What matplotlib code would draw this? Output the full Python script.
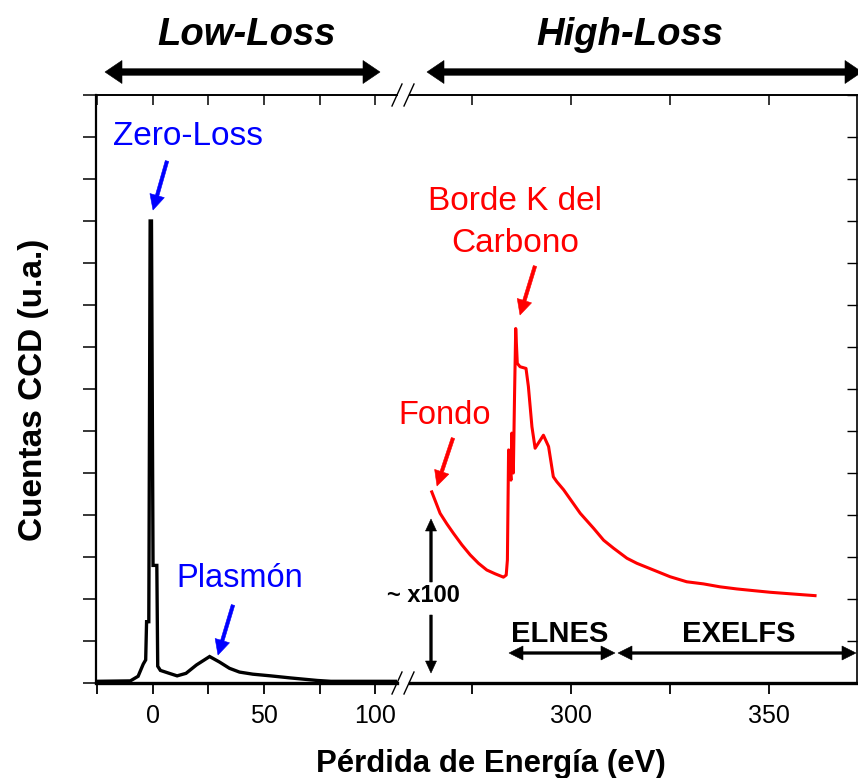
import matplotlib
matplotlib.use('Agg')
import matplotlib.pyplot as plt
from matplotlib.patches import Polygon
from matplotlib.lines import Line2D

# ---------------- data ----------------
low_energy = [-25.4, -10.0, -6.5, -4.2, -3.1, -2.7, -1.7, -1.1, -0.5, 0.2, 1.9, 2.3,
              3.5, 7.5, 11.0, 15.0, 19.7, 25.6, 30.0, 34.5, 39.0, 45.0, 53.0, 62.0,
              74.0, 80.0, 109.7]
low_counts = [0.04, 0.05, 0.16, 0.45, 0.55, 1.46, 1.46, 11.0, 11.0, 2.8, 2.8, 0.4,
              0.3, 0.23, 0.17, 0.23, 0.43, 0.63, 0.5, 0.35, 0.26, 0.21, 0.17, 0.12,
              0.06, 0.04, 0.04]

high_energy = [264.8, 266.9, 268.6, 270.3, 272.4, 274.5, 276.6, 278.7, 280.8, 282.9,
               283.6, 283.9, 284.2, 284.8, 285.0, 285.4, 285.7, 286.0, 286.4, 287.1,
               288.6, 289.2, 290.1, 290.9, 293.0, 294.3, 295.5, 296.4, 298.1, 302.3,
               305.7, 308.2, 310.7, 314.1, 316.6, 320.8, 325.0, 329.2, 333.4, 337.6,
               341.8, 346.0, 350.3, 354.5, 358.7, 361.6]
high_counts = [4.55, 4.04, 3.79, 3.56, 3.29, 3.05, 2.85, 2.69, 2.60, 2.52,
               2.57, 2.93, 5.55, 4.83, 5.95, 5.0, 6.82, 8.44, 7.61, 7.53,
               7.49, 7.06, 6.10, 5.59, 5.90, 5.63, 4.91, 4.79, 4.60, 4.04,
               3.68, 3.40, 3.21, 2.97, 2.85, 2.69, 2.53, 2.41, 2.36, 2.29,
               2.24, 2.20, 2.16, 2.13, 2.10, 2.08]

low_major = [0, 50, 100]
low_minor = [-25, 25, 75]
high_major = [300, 350]
high_minor = [275, 325]
y_ticks = list(range(0, 15))

xlabel = 'Pérdida de Energía (eV)'
ylabel = 'Cuentas CCD (u.a.)'

# ---------------- figure ----------------
plt.rcParams['font.family'] = ['Liberation Sans', 'DejaVu Sans']
W, H = 858, 778
fig = plt.figure(figsize=(W / 100, H / 100), dpi=100)


def fx(x):
    return x / W


def fy(y):
    return 1 - y / H


ax_top, ax_bot = 95, 683
axL = fig.add_axes([fx(96), fy(ax_bot), fx(397) - fx(96), (ax_bot - ax_top) / H])
axR = fig.add_axes([fx(410), fy(ax_bot), fx(857) - fx(410), (ax_bot - ax_top) / H])

axL.plot(low_energy, low_counts, color='black', lw=2.4, solid_joinstyle='miter')
axR.plot(high_energy, high_counts, color='#ff0000', lw=2.2)

axL.set_xlim(-25.4, 109.7)
axR.set_xlim(259.3, 372.2)
for ax in (axL, axR):
    ax.set_ylim(0, 14)
    ax.set_yticks(y_ticks)
    ax.set_yticklabels([])
    ax.spines['bottom'].set_linewidth(2.4)
    ax.spines['top'].set_linewidth(1.2)

axL.spines['right'].set_visible(False)
axR.spines['left'].set_visible(False)
axL.spines['left'].set_linewidth(1.6)
axR.spines['right'].set_linewidth(1.2)

axL.set_xticks(low_major)
axL.set_xticks(low_minor, minor=True)
axR.set_xticks(high_major)
axR.set_xticks(high_minor, minor=True)
for ax in (axL, axR):
    ax.tick_params(axis='x', which='both', direction='out', length=8, width=1.3,
                   labelsize=18, pad=7, top=False)
axL.tick_params(axis='y', which='both', direction='out', length=9.5, width=1.1,
                left=True, right=False)
axR.tick_params(axis='y', which='both', direction='in', length=7, width=1.0,
                left=False, right=True)

# inward ticks on the top spine
for ax, ticks in ((axL, low_major + low_minor), (axR, high_major + high_minor)):
    sec = ax.secondary_xaxis('top')
    sec.set_xticks(ticks)
    sec.tick_params(direction='in', length=7, width=1.1, labeltop=False)
    sec.spines['top'].set_linewidth(1.2)

# axis break marks
for yb in (ax_bot, ax_top):
    for x0 in (392, 404):
        fig.add_artist(Line2D([fx(x0), fx(x0 + 10)], [fy(yb + 11), fy(yb - 11)],
                              transform=fig.transFigure, color='black', lw=1.0))


def arrow_poly(x0, y0, x1, y1, color, hl, hw, tw, both=False):
    """Filled arrow polygon, sizes in pixels; head at (x1, y1) (and (x0, y0) if both)."""
    L = ((x1 - x0) ** 2 + (y1 - y0) ** 2) ** 0.5
    ux, uy = (x1 - x0) / L, (y1 - y0) / L
    nx, ny = -uy, ux

    def p(px, py):
        return (fx(px), fy(py))

    pts = []
    if both:
        bx, by = x0 + hl * ux, y0 + hl * uy
        pts += [p(x0, y0), p(bx + hw / 2 * nx, by + hw / 2 * ny),
                p(bx + tw / 2 * nx, by + tw / 2 * ny)]
    else:
        pts += [p(x0 + tw / 2 * nx, y0 + tw / 2 * ny)]
    ex, ey = x1 - hl * ux, y1 - hl * uy
    pts += [p(ex + tw / 2 * nx, ey + tw / 2 * ny), p(ex + hw / 2 * nx, ey + hw / 2 * ny),
            p(x1, y1), p(ex - hw / 2 * nx, ey - hw / 2 * ny),
            p(ex - tw / 2 * nx, ey - tw / 2 * ny)]
    if both:
        pts += [p(bx - tw / 2 * nx, by - tw / 2 * ny),
                p(bx - hw / 2 * nx, by - hw / 2 * ny)]
    else:
        pts += [p(x0 - tw / 2 * nx, y0 - tw / 2 * ny)]
    fig.add_artist(Polygon(pts, closed=True, transform=fig.transFigure,
                           facecolor=color, edgecolor=color, lw=0.4))


# region headers
fig.text(fx(247), fy(45), 'Low-Loss', ha='center', va='baseline', fontsize=27.5,
         fontweight='bold', fontstyle='italic')
fig.text(fx(630), fy(45), 'High-Loss', ha='center', va='baseline', fontsize=27.5,
         fontweight='bold', fontstyle='italic')
arrow_poly(105, 72, 380, 72, 'black', 17, 23, 6.5, both=True)
arrow_poly(427, 72, 862, 72, 'black', 17, 23, 6.5, both=True)

# labels inside
fig.text(fx(188), fy(145), 'Zero-Loss', ha='center', va='baseline', fontsize=24,
         color='#0000ff')
arrow_poly(167, 161, 153, 210, '#0000ff', 15, 15, 3.5)
fig.text(fx(240), fy(587), 'Plasmón', ha='center', va='baseline', fontsize=23.5,
         color='#0000ff')
arrow_poly(233, 605, 218, 655, '#0000ff', 15, 15, 3.5)
fig.text(fx(515), fy(210), 'Borde K del', ha='center', va='baseline', fontsize=24,
         color='#ff0000')
fig.text(fx(515), fy(252), 'Carbono', ha='center', va='baseline', fontsize=24,
         color='#ff0000')
arrow_poly(535, 266, 520, 315, '#ff0000', 15, 15, 3.5)
fig.text(fx(445), fy(424), 'Fondo', ha='center', va='baseline', fontsize=23.5,
         color='#ff0000')
arrow_poly(453, 438, 437, 486, '#ff0000', 15, 15, 3.5)

fig.text(fx(423), fy(602), '~ x100', ha='center', va='baseline', fontsize=17,
         fontweight='bold')
arrow_poly(431, 582, 431, 519, 'black', 12, 11, 2.5)
arrow_poly(431, 615, 431, 673, 'black', 12, 11, 2.5)

fig.text(fx(560), fy(642), 'ELNES', ha='center', va='baseline', fontsize=21,
         fontweight='bold')
fig.text(fx(739), fy(642), 'EXELFS', ha='center', va='baseline', fontsize=21,
         fontweight='bold')
arrow_poly(509, 653, 615, 653, 'black', 14, 14, 2.5, both=True)
arrow_poly(618, 653, 856, 653, 'black', 14, 14, 2.5, both=True)

# axis titles
fig.text(fx(491), fy(772), xlabel, ha='center', va='baseline', fontsize=22.4,
         fontweight='bold')
fig.text(fx(42), fy(390), ylabel, ha='center', va='baseline', rotation=90,
         rotation_mode='anchor', fontsize=24, fontweight='bold')

fig.savefig('out.png', dpi=100)
